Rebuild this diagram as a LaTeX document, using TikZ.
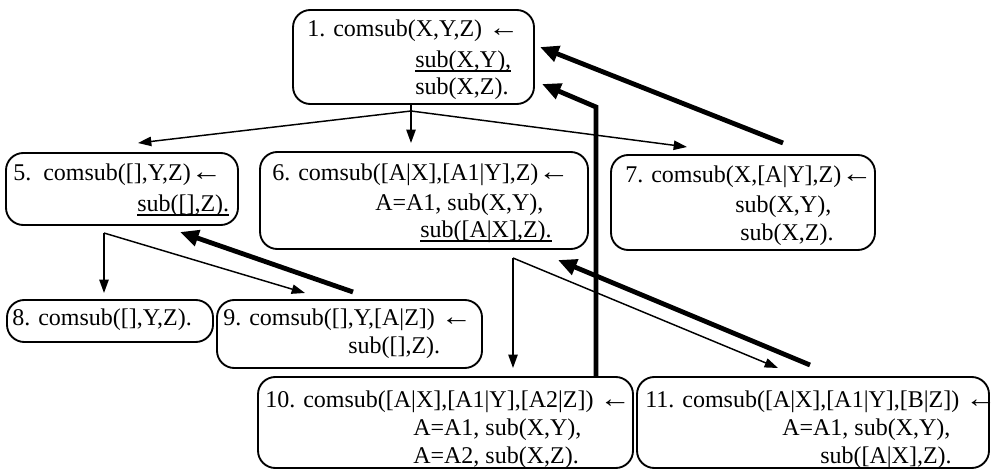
\documentclass[tikz,border=0pt]{standalone}
\usepackage{fontspec}
\setmainfont{Liberation Serif}
\usetikzlibrary{arrows.meta}
\newcommand{\ulbox}[1]{\setbox0\hbox{#1}\rlap{\rule[-3pt]{\wd0}{0.9pt}}\box0}
\newcommand{\larr}{\scalebox{1.3}[1.1]{←}}
\begin{document}
\begin{tikzpicture}[x=0.75pt,y=-0.75pt,
  box/.style={draw, line width=1.4pt, rounded corners=13pt, inner sep=0pt},
  txt/.style={anchor=west, inner sep=0pt, font=\fontsize{18}{21.75}\selectfont, text height=13pt, text depth=4.5pt},
  thinarrow/.style={line width=1.1pt, -{Triangle[length=10pt,width=7pt]}},
  thickarrow/.style={line width=3.6pt, -{Triangle[length=14pt,width=12pt]}}]
\useasboundingbox (0,0) rectangle (992,470);

% boxes
\node[box, minimum width=180.75pt, minimum height=70.5pt] (b1) at (413.5,57) {};
\node[box, minimum width=174pt, minimum height=54pt] (b5) at (122,189) {};
\node[box, minimum width=246pt, minimum height=72.75pt] (b6) at (424,200.5) {};
\node[box, minimum width=198pt, minimum height=71.25pt] (b7) at (743,202.5) {};
\node[box, minimum width=154.5pt, minimum height=31.5pt] (b8) at (110,321) {};
\node[box, minimum width=198.75pt, minimum height=51pt] (b9) at (349.5,334) {};
\node[box, minimum width=281.25pt, minimum height=68.25pt] (b10) at (445.5,422.5) {};
\node[box, minimum width=264pt, minimum height=68.25pt] (b11) at (813,422.5) {};

% texts
\node[txt] (t1a) at (307,31) {1. comsub(X,Y,Z) \larr};
\node[txt] (t1b) at (415,62) {\ulbox{sub(X,Y),}};
\node[txt] (t1c) at (415,89) {sub(X,Z).};

\node[txt] (t5a) at (13,175) {5.\ \ comsub([],Y,Z)\larr};
\node[txt] (t5b) at (137,206) {\ulbox{sub([],Z).}};

\node[txt] (t6a) at (272,175) {6. comsub([A|X],[A1|Y],Z)\larr};
\node[txt] (t6b) at (375,205) {A=A1, sub(X,Y),};
\node[txt] (t6c) at (420,232) {\ulbox{sub([A|X],Z).}};

\node[txt] (t7a) at (625,177) {7. comsub(X,[A|Y],Z)\larr};
\node[txt] (t7b) at (735,207) {sub(X,Y),};
\node[txt] (t7c) at (740,235) {sub(X,Z).};

\node[txt] (t8a) at (12,320) {8. comsub([],Y,Z).};

\node[txt] (t9a) at (223,320) {9. comsub([],Y,[A|Z]) \larr};
\node[txt] (t9b) at (348,348) {sub([],Z).};

\node[txt] (t10a) at (265,402) {10. comsub([A|X],[A1|Y],[A2|Z]) \larr};
\node[txt] (t10b) at (413,430) {A=A1, sub(X,Y),};
\node[txt] (t10c) at (413,458) {A=A2, sub(X,Z).};

\node[txt] (t11a) at (645,402) {11. comsub([A|X],[A1|Y],[B|Z]) \larr};
\node[txt] (t11b) at (782,430) {A=A1, sub(X,Y),};
\node[txt] (t11c) at (820,458) {sub([A|X],Z).};

% connector points
\coordinate (a1) at (411,111);
\coordinate (l5) at (138,143);
\coordinate (d6) at (411,143);
\coordinate (r7) at (687,147);
\coordinate (s5) at (104,233);
\coordinate (d8) at (104,293);
\coordinate (d9) at (305,293);
\coordinate (u9) at (353,292);
\coordinate (h5) at (180,232);
\coordinate (s6) at (513,258);
\coordinate (d10) at (513,368);
\coordinate (d11) at (778,368);
\coordinate (u11) at (810,365);
\coordinate (h6) at (558,260);
\coordinate (bend) at (596,107);
\coordinate (h1b) at (542,84);
\coordinate (u7) at (783,143);
\coordinate (h1a) at (540,47);

% thin arrows
\draw[thinarrow] (a1 |- b1.south) -- (d6);
\draw[thinarrow] (a1) -- (l5);
\draw[thinarrow] (a1) -- (r7);
\draw[thinarrow] (s5) -- (d8);
\draw[thinarrow] (s5) -- (d9);
\draw[thinarrow] (s6) -- (d10);
\draw[thinarrow] (s6) -- (d11);

% thick arrows
\draw[thickarrow] (u9) -- (h5);
\draw[thickarrow] (u11) -- (h6);
\draw[thickarrow] (bend |- b10.north) -- (bend) -- (h1b);
\draw[thickarrow] (u7) -- (h1a);
\end{tikzpicture}
\end{document}
